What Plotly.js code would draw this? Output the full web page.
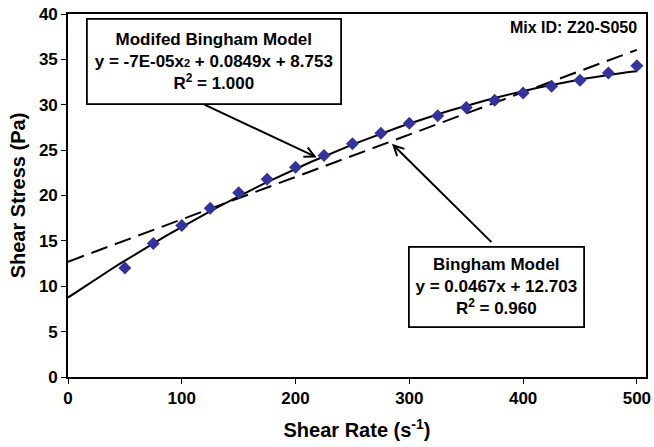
<!DOCTYPE html>
<html>
<head>
<meta charset="utf-8">
<script src="https://cdn.plot.ly/plotly-3.0.1.min.js"></script>
<style>html,body{margin:0;padding:0;background:#fff}#chart{width:654px;height:447px}</style>
</head>
<body>
<div id="chart"></div>
<script>
// Measured data
const shearRate = [50, 75, 100, 125, 150, 175, 200, 225, 250, 275, 300, 325, 350, 375, 400, 425, 450, 475, 500];
const shearStress = [12.0, 14.7, 16.7, 18.6, 20.3, 21.8, 23.1, 24.4, 25.7, 26.85, 27.95, 28.8, 29.7, 30.5, 31.3, 32.05, 32.7, 33.5, 34.3];

// Trendline coefficients as printed on the chart
const modBinghamCoef = [8.753, 0.0849, -7e-05];   // c0, c1, c2
const binghamCoef = [12.703, 0.0467];             // c0, c1
const fitRange = [0, 500];

const fitX = [];
for (let x = fitRange[0]; x <= fitRange[1]; x += 5) fitX.push(x);
const modY = fitX.map(x => modBinghamCoef[0] + modBinghamCoef[1]*x + modBinghamCoef[2]*x*x);
const binX = [fitRange[0], fitRange[1]];
const binY = binX.map(x => binghamCoef[0] + binghamCoef[1]*x);

const F = '"Liberation Sans", Arial, Helvetica, sans-serif';

const traces = [
  {x: binX, y: binY, mode: 'lines', line: {color: '#000', width: 2, dash: '17px,8px'}, hoverinfo: 'skip'},
  {x: fitX, y: modY, mode: 'lines', line: {color: '#000', width: 2}, hoverinfo: 'skip'},
  {x: shearRate, y: shearStress, mode: 'markers',
   marker: {symbol: 'diamond', size: 10, color: '#33339a', line: {width: 0}}}
];

const layout = {
  width: 654, height: 447,
  margin: {l: 68, r: 8, t: 14, b: 70},
  showlegend: false,
  paper_bgcolor: '#fff', plot_bgcolor: '#fff',
  font: {family: F, color: '#000'},
  xaxis: {
    range: [0, 508], tickvals: [0, 100, 200, 300, 400, 500],
    showgrid: false, zeroline: false,
    showline: true, mirror: true, linecolor: '#000', linewidth: 1.8,
    ticks: 'outside', ticklen: 5, tickcolor: '#000', tickwidth: 1,
    tickfont: {family: F, size: 17, color: '#000', weight: 'bold'},
    title: {text: '<b>Shear Rate (s<sup>-1</sup>)</b>', font: {family: F, size: 20, color: '#000'}, standoff: 16}
  },
  yaxis: {
    range: [0, 40], tickvals: [0, 5, 10, 15, 20, 25, 30, 35, 40],
    showgrid: false, zeroline: false,
    showline: true, mirror: true, linecolor: '#000', linewidth: 1.8,
    ticks: 'outside', ticklen: 5, tickcolor: '#000', tickwidth: 1,
    tickfont: {family: F, size: 17, color: '#000', weight: 'bold'},
    title: {text: '<b>Shear Stress (Pa)</b>', font: {family: F, size: 20, color: '#000'}, standoff: 8}
  },
  annotations: [
    {xref: 'x', yref: 'y', x: 127.9, y: 34.8, showarrow: false,
     text: '<b>Modifed Bingham Model</b><br><b>y = -7E-05x<span style="font-size:11px">2</span> + 0.0849x + 8.753</b><br><b>R<sup>2</sup> = 1.000</b>',
     font: {family: F, size: 17, color: '#000'}, align: 'center',
     bgcolor: '#fff', bordercolor: '#000', borderwidth: 1.8, borderpad: 0,
     width: 252, height: 83},
    {xref: 'x', yref: 'y', x: 377, y: 9.97, showarrow: false,
     text: '<b>Bingham Model</b><br><b>y = 0.0467x + 12.703</b><br><b>R<sup>2</sup> = 0.960</b>',
     font: {family: F, size: 17, color: '#000'}, align: 'center',
     bgcolor: '#fff', bordercolor: '#000', borderwidth: 1.8, borderpad: 0,
     width: 173, height: 78},
    {xref: 'x', yref: 'y', axref: 'x', ayref: 'y', x: 218.6, y: 24.2, ax: 118.6, ay: 30.1,
     text: '', showarrow: true, arrowhead: 5, arrowsize: 1, arrowwidth: 2, arrowcolor: '#000'},
    {xref: 'x', yref: 'y', axref: 'x', ayref: 'y', x: 284.7, y: 25.7, ax: 373.5, ay: 14.7,
     text: '', showarrow: true, arrowhead: 5, arrowsize: 1, arrowwidth: 2, arrowcolor: '#000'},
    {xref: 'paper', yref: 'paper', x: 0.988, y: 0.964, xanchor: 'right', yanchor: 'middle', showarrow: false,
     text: '<b>Mix ID: Z20-S050</b>', font: {family: F, size: 16, color: '#000'}}
  ]
};

Plotly.newPlot('chart', traces, layout, {displayModeBar: false, staticPlot: true});
</script>
</body>
</html>
